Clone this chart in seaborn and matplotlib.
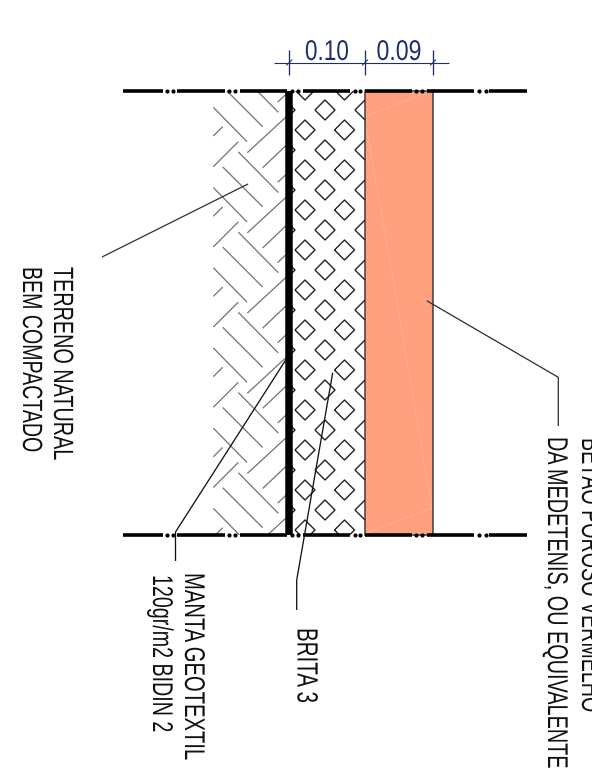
import matplotlib
matplotlib.use("Agg")
import matplotlib.pyplot as plt
from matplotlib.patches import Rectangle
from matplotlib.patheffects import AbstractPathEffect
from matplotlib.transforms import Affine2D
import numpy as np
import pandas as pd
import seaborn as sns

# ---- drawing data, in picture units -------------------------------------
dash_from = [123, 176.5, 240, 303, 365, 426.5, 489]
dash_to = [163, 225, 286.5, 350, 412, 474, 527]
dot_x = [167, 173, 229, 235, 292, 298, 355, 360, 416, 422, 479, 485.5]
border_y = [90.5, 534.5]

gravel_cols_even = [305, 344.5]
gravel_rows_even = [90, 130, 170, 210, 250, 290, 330, 370, 410, 450, 490, 530]
gravel_cols_odd = [285, 325, 365]
gravel_rows_odd = [110, 150, 190, 230, 270, 310, 350, 390, 430, 470, 510]
gravel_half = 10

hatch_x0 = [213.3, 222.7, 238.3, 213.3, 213.3, 247.3, 262.7, 277.7]
hatch_y0 = [107.3, 86.7, 71.7, 136, 166.7, 152.7, 167.7, 182.3]
hatch_x1 = [247.0, 262.7, 278.3, 222.7, 238.3, 290.0, 290.0, 290.0]
hatch_y1 = [141.7, 126.7, 112.3, 126.7, 141.7, 113.3, 141.7, 170.7]
hatch_shift = [-80.2, 0, 80.2, 160.4, 240.6, 320.8, 401, 481.2]

leader_terreno_x = [102, 248]
leader_terreno_y = [257, 184]
leader_manta_x = [287, 175.5, 175.5]
leader_manta_y = [358, 532, 561]
leader_brita_x = [332.7, 296.7, 296.7]
leader_brita_y = [372.7, 580, 610]
leader_betao_x = [426.7, 558.3, 558.3]
leader_betao_y = [300.7, 377.3, 426]

streak_x = [366.7, 425, 366.7, 395, 431.7, 366.7]
streak_y = [116, 93, 130, 290, 508, 533]

dim_x = [273.5, 448.7]
dim_y = 62.5
dim_ticks = [289.3, 365, 433]
dim_labels = ["0.10", "0.09"]
dim_label_x = [327, 399]
dim_label_len = [44, 45]

labels = ["TERRENO NATURAL", "BEM COMPACTADO", "MANTA GEOTEXTIL", "120gr/m2 BIDIN 2",
          "BRITA 3", "DA MEDETENIS, OU EQUIVALENTE", "BETÃO POROSO VERMELHO"]
label_x = [54, 23, 185, 153, 297.5, 548, 582]
label_y = [267, 267, 573, 575, 628, 437, 438]
label_len = [193, 185, 187, 157, 75, 331, 274]
label_cap = [19.5, 19.5, 20, 20, 20.5, 20, 20]

SALMON = "#FFA07F"
NAVY = "#1F2D6B"
PX = 0.72
CAP_RATIO = 0.70


class TallGlyphs(AbstractPathEffect):
    """Stretches glyphs away from their baseline, as in the CAD lettering."""

    def __init__(self, factor):
        super().__init__()
        self.factor = factor

    def draw_path(self, renderer, gc, tpath, affine, rgbFace=None):
        renderer.draw_path(gc, tpath, Affine2D().scale(1, self.factor) + affine, rgbFace)


sns.set_theme(style="white")
plt.rcParams["font.family"] = ["Liberation Sans", "DejaVu Sans"]

fig = plt.figure(figsize=(5.92, 7.69), dpi=100)
ax = fig.add_axes([0, 0, 1, 1])
ax.set_xlim(0, 592)
ax.set_ylim(769, 0)
ax.axis("off")


def polylines(parts, color, width, clip=None, z=2):
    rows = []
    for i, (xs, ys) in enumerate(parts):
        rows += [{"x": x, "y": y, "u": i} for x, y in zip(xs, ys)]
    before = len(ax.lines)
    sns.lineplot(data=pd.DataFrame(rows), x="x", y="y", units="u", estimator=None, sort=False,
                 color=color, linewidth=width * PX, ax=ax, legend=False, zorder=z)
    for ln in ax.lines[before:]:
        ln.set_solid_capstyle("butt")
        if clip is not None:
            ln.set_clip_path(Rectangle((clip[0], clip[1]), clip[2] - clip[0], clip[3] - clip[1],
                                       transform=ax.transData))


def fitted_text(x, y, s, length, cap, color, **kw):
    t = ax.text(x, y, s, fontsize=20, color=color, va="baseline", clip_on=False, **kw)
    rend = fig.canvas.get_renderer()
    box = t.get_window_extent(rend)
    size = 20 * length / max(box.width, box.height)
    t.set_fontsize(size)
    t.set_path_effects([TallGlyphs(cap / (size * 100 / 72 * CAP_RATIO))])
    return t


# concrete layer
ax.add_patch(Rectangle((365, border_y[0]), 68, border_y[1] - border_y[0], fc=SALMON, ec="#3a3a3a",
                       lw=1.5 * PX, zorder=1))
polylines([(streak_x[:2], streak_y[:2]), (streak_x[2:], streak_y[2:])], "#FFB59B", 0.8, z=1.5)

# soil hatch
parts = []
for s in hatch_shift:
    for a, b, c, d in zip(hatch_x0, hatch_y0, hatch_x1, hatch_y1):
        parts.append(([a, c], [b + s, d + s]))
polylines(parts, "#777777", 1.3, clip=(213, border_y[0], 290, border_y[1]))

# gravel
parts = []
for cols, rows_ in ((gravel_cols_even, gravel_rows_even), (gravel_cols_odd, gravel_rows_odd)):
    for cx in cols:
        for cy in rows_:
            h = gravel_half
            parts.append(([cx - h, cx, cx + h, cx, cx - h], [cy, cy - h, cy, cy + h, cy]))
polylines(parts, "#222222", 1.4, clip=(286, border_y[0], 365, border_y[1]))

# geotextile
polylines([([289.3, 289.3], border_y)], "#000000", 7.5, z=3)

# dash-dot borders
for y in border_y:
    polylines([([a, b], [y, y]) for a, b in zip(dash_from, dash_to)], "#000000", 3.6, z=4)
    sns.scatterplot(x=dot_x, y=[y] * len(dot_x), color="#000000", s=9, linewidth=0, ax=ax, zorder=4, legend=False)

# leaders
polylines([(leader_terreno_x, leader_terreno_y)], "#333333", 1.3, z=5)
polylines([(leader_manta_x, leader_manta_y)], "#111111", 1.3, z=5)
polylines([(leader_brita_x, leader_brita_y)], "#111111", 1.3, z=5)
polylines([(leader_betao_x, leader_betao_y)], "#333333", 1.3, z=5)

# dimensions
polylines([(dim_x, [dim_y, dim_y])], NAVY, 1.1, z=5)
polylines([([x, x], [50, 75]) for x in dim_ticks], NAVY, 1.3, z=5)
polylines([([x - 3, x + 3], [dim_y + 3, dim_y - 3]) for x in dim_ticks], NAVY, 1.0, z=5)
for t, x, n in zip(dim_labels, dim_label_x, dim_label_len):
    fitted_text(x, 60, t, n, 20, NAVY, ha="center")

for t, x, y, n, c in zip(labels, label_x, label_y, label_len, label_cap):
    fitted_text(x, y, t, n, c, "#111111", rotation=-90, rotation_mode="anchor", ha="left")

fig.savefig("out.png", dpi=100)
